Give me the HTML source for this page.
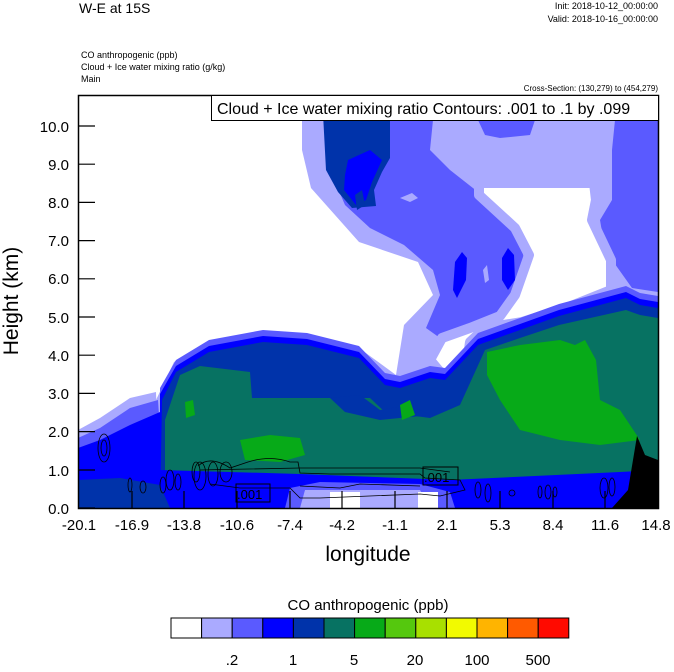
<!DOCTYPE html>
<html><head><meta charset="utf-8"><style>
body{margin:0;background:#fff}
svg text{font-family:"Liberation Sans",sans-serif}
</style></head><body>
<svg width="674" height="667" viewBox="0 0 674 667" xmlns="http://www.w3.org/2000/svg">
<rect width="674" height="667" fill="#fff"/>
<text x="79" y="13" font-size="14">W-E at 15S</text>
<text x="658" y="9" font-size="9" text-anchor="end">Init: 2018-10-12_00:00:00</text>
<text x="658" y="22" font-size="9" text-anchor="end">Valid: 2018-10-16_00:00:00</text>
<text x="81" y="58" font-size="9">CO anthropogenic   (ppb)</text>
<text x="81" y="70" font-size="9">Cloud + Ice water mixing ratio   (g/kg)</text>
<text x="81" y="82" font-size="9">Main</text>
<text x="658" y="91" font-size="8" text-anchor="end">Cross-Section: (130,279) to (454,279)</text>
<defs><clipPath id="c"><rect x="78" y="95" width="580" height="413"/></clipPath></defs>
<g clip-path="url(#c)">
<polygon fill="#aaaaff" points="156,508 156,400 174,362 207,342 263,332 307,335 359,348 396,375 404,325 433,295 418,262 359,242 311,188 302,150 302,95 658,95 658,508"/>
<polygon fill="#5a5aff" points="324,120 433,120 430,150 450,170 478,192 505,212 522,245 525,270 515,295 500,325 470,338 440,338 426,328 440,295 433,270 404,245 370,228 345,205 330,170"/>
<polygon fill="#5a5aff" points="478,120 535,120 530,135 500,138 485,135"/>
<polygon fill="#5a5aff" points="615,120 658,120 658,292 632,288 605,250 600,220 612,200 612,150"/>
<polygon fill="#fff" stroke="#aaaaff" stroke-width="10" stroke-linejoin="round" points="479,183 594,183 596,200 592,220 611,260 611,290 566,308 522,322 485,328 470,342 466,372 445,378 430,360 442,338 470,328 500,316 515,295 529,255 515,228 479,195"/>
<!-- dark column -->
<path fill="#0033aa" d="M322,95 L390,95 L390,158 L382,172 L374,190 L376,206 L352,208 L338,192 L326,170 Z"/>
<path fill="#0000ff" d="M348,160 L370,150 L382,160 L372,182 L366,200 L356,205 L344,190 L345,175 Z"/>
<polygon fill="#0033aa" points="355,195 362,190 365,205 357,210"/>
<polygon fill="#aaaaff" points="400,198 412,193 418,198 410,202"/>
<polygon fill="#0000ff" points="455,262 462,252 467,258 466,280 457,298 453,290"/>
<polygon fill="#0000ff" points="502,258 508,248 514,255 515,280 508,290 502,280"/>
<polygon fill="#aaaaff" points="483,270 487,265 489,280 485,283"/>
<!-- left side layers -->
<polygon fill="#aaaaff" points="78,430 100,418 130,398 156,392 160,508 78,508"/>
<polygon fill="#5a5aff" points="78,438 100,428 130,408 158,400 165,508 78,508"/>
<polygon fill="#0000ff" points="78,448 100,440 130,425 160,412 170,508 78,508"/>
<g>
<polygon fill="#5a5aff" transform="translate(0,-12)" points="160,508 160,400 176,372 209,352 263,342 307,345 359,358 385,385 400,388 430,378 445,380 478,345 520,330 559,316 626,298 640,305 658,308 658,508"/>
<polygon fill="#0000ff" transform="translate(0,-6)" points="160,508 160,400 176,372 209,352 263,342 307,345 359,358 385,385 400,388 430,378 445,380 478,345 520,330 559,316 626,298 640,305 658,308 658,508"/>
<polygon fill="#0033aa" points="160,508 162,400 176,372 209,352 263,342 307,345 359,358 385,385 400,388 430,378 445,380 478,345 520,330 559,316 626,298 640,305 658,308 658,508"/>
<polygon fill="#077262" points="165,508 165,420 180,375 200,366 250,372 252,398 370,398 385,412 430,418 460,405 485,350 520,338 559,325 626,310 640,315 658,318 658,508"/>
</g>
<polygon fill="#0033aa" points="330,398 360,395 380,410 410,405 430,415 380,420 345,412"/>
<polygon fill="#07aa18" points="487,352 520,345 560,340 575,345 585,340 596,360 600,400 620,410 640,440 600,445 560,440 520,430 500,400 487,375"/>
<polygon fill="#07aa18" points="240,440 270,435 300,438 305,455 280,462 245,460"/>
<polygon fill="#07aa18" points="185,402 193,400 195,415 186,418"/>
<polygon fill="#07aa18" points="400,405 410,400 415,415 402,420"/>
<polygon fill="#0000ff" points="160,470 300,474 450,480 620,472 658,470 658,508 160,508"/>
<polygon fill="#5a5aff" points="285,508 290,488 320,482 420,484 450,492 455,508"/>
<polygon fill="#aaaaff" points="300,508 305,490 420,490 430,508"/>
<rect x="330" y="492" width="30" height="16" fill="#fff"/>
<rect x="418" y="492" width="20" height="16" fill="#fff"/>
<polygon fill="#0033aa" points="78,480 120,478 160,485 170,508 78,508"/>
<polygon fill="#000" points="612,508 628,490 633,460 637,436 645,455 658,460 658,508"/>
<g fill="none" stroke="#000" stroke-width="0.8">
<ellipse cx="104" cy="448" rx="6" ry="14"/><ellipse cx="104" cy="448" rx="3" ry="8"/>
<ellipse cx="130" cy="485" rx="2" ry="7"/>
<ellipse cx="143" cy="487" rx="3" ry="6"/><ellipse cx="163" cy="485" rx="3" ry="8"/>
<ellipse cx="170" cy="480" rx="4" ry="10"/><ellipse cx="178" cy="482" rx="3" ry="8"/>
<ellipse cx="196" cy="472" rx="4" ry="10"/><ellipse cx="200" cy="476" rx="6" ry="14"/>
<ellipse cx="213" cy="474" rx="5" ry="12"/><ellipse cx="226" cy="472" rx="6" ry="10"/>
<path d="M198,466 Q210,455 230,468 L248,462 Q270,455 290,462 L298,462 L300,473 L330,474 L420,474 L425,478 L460,480 L465,490 L440,496 L420,494 L320,498 L300,498 L290,488 L240,488 L210,484"/>
<path d="M200,470 L300,468 L420,468 L450,472"/>
<path d="M300,486 L340,488 L360,484 L420,486"/>
<ellipse cx="478" cy="490" rx="3" ry="8"/><ellipse cx="488" cy="493" rx="3" ry="9"/>
<ellipse cx="512" cy="493" rx="3" ry="3"/>
<ellipse cx="540" cy="492" rx="2" ry="6"/><ellipse cx="548" cy="492" rx="3" ry="7"/><ellipse cx="555" cy="492" rx="2" ry="5"/>
<ellipse cx="604" cy="488" rx="4" ry="10"/><ellipse cx="612" cy="487" rx="3" ry="9"/>
</g>
<rect x="236" y="484" width="34" height="18" fill="none" stroke="#000"/>
<text x="237" y="499" font-size="13">.001</text>
<rect x="423" y="467" width="35" height="18" fill="none" stroke="#000"/>
<text x="424" y="482" font-size="13">.001</text>
</g>
<rect x="78.5" y="95.5" width="580" height="413" fill="none" stroke="#000" stroke-width="1.5"/>
<rect x="211.5" y="95.5" width="447" height="25" fill="#fff" stroke="#000"/>
<text x="217" y="114" font-size="16">Cloud + Ice water mixing ratio Contours: .001 to .1 by .099</text>
<g stroke="#000" stroke-width="1.2">
<line x1="78" y1="508" x2="95" y2="508"/><line x1="78" y1="470" x2="95" y2="470"/><line x1="78" y1="431.6" x2="95" y2="431.6"/>
<line x1="78" y1="393.4" x2="95" y2="393.4"/><line x1="78" y1="355.2" x2="95" y2="355.2"/><line x1="78" y1="317" x2="95" y2="317"/>
<line x1="78" y1="278.8" x2="95" y2="278.8"/><line x1="78" y1="240.6" x2="95" y2="240.6"/><line x1="78" y1="202.4" x2="95" y2="202.4"/>
<line x1="78" y1="164.2" x2="95" y2="164.2"/><line x1="78" y1="126" x2="95" y2="126"/>
<line x1="132" y1="508" x2="132" y2="491"/><line x1="184" y1="508" x2="184" y2="491"/><line x1="237" y1="508" x2="237" y2="491"/>
<line x1="290" y1="508" x2="290" y2="491"/><line x1="342" y1="508" x2="342" y2="491"/><line x1="395" y1="508" x2="395" y2="491"/>
<line x1="447" y1="508" x2="447" y2="491"/><line x1="500" y1="508" x2="500" y2="491"/><line x1="553" y1="508" x2="553" y2="491"/>
<line x1="605" y1="508" x2="605" y2="491"/>
</g>
<g font-size="15" text-anchor="end">
<text x="69" y="514">0.0</text><text x="69" y="476">1.0</text><text x="69" y="437">2.0</text><text x="69" y="399">3.0</text>
<text x="69" y="361">4.0</text><text x="69" y="323">5.0</text><text x="69" y="284">6.0</text><text x="69" y="246">7.0</text>
<text x="69" y="208">8.0</text><text x="69" y="170">9.0</text><text x="69" y="132">10.0</text>
</g>
<g font-size="15" text-anchor="middle">
<text x="79" y="530">-20.1</text><text x="132" y="530">-16.9</text><text x="184" y="530">-13.8</text><text x="237" y="530">-10.6</text>
<text x="290" y="530">-7.4</text><text x="342" y="530">-4.2</text><text x="395" y="530">-1.1</text><text x="447" y="530">2.1</text>
<text x="500" y="530">5.3</text><text x="553" y="530">8.4</text><text x="605" y="530">11.6</text><text x="656" y="530">14.8</text>
</g>
<text x="368" y="561" font-size="21" text-anchor="middle">longitude</text>
<text transform="translate(18,301) rotate(-90)" font-size="21" text-anchor="middle">Height (km)</text>
<text x="368" y="610" font-size="15" text-anchor="middle">CO anthropogenic  (ppb)</text>
<g stroke="#000" stroke-width="1">
<rect x="171" y="618" width="30.6" height="20" fill="#ffffff"/>
<rect x="201.6" y="618" width="30.6" height="20" fill="#aaaaff"/>
<rect x="232.2" y="618" width="30.6" height="20" fill="#5a5aff"/>
<rect x="262.8" y="618" width="30.6" height="20" fill="#0000ff"/>
<rect x="293.4" y="618" width="30.6" height="20" fill="#0033aa"/>
<rect x="324" y="618" width="30.6" height="20" fill="#077262"/>
<rect x="354.6" y="618" width="30.6" height="20" fill="#07aa18"/>
<rect x="385.2" y="618" width="30.6" height="20" fill="#55c80e"/>
<rect x="415.8" y="618" width="30.6" height="20" fill="#a8e000"/>
<rect x="446.4" y="618" width="30.6" height="20" fill="#f2fa00"/>
<rect x="477" y="618" width="30.6" height="20" fill="#ffb400"/>
<rect x="507.6" y="618" width="30.6" height="20" fill="#ff5a00"/>
<rect x="538.2" y="618" width="30.6" height="20" fill="#ff0a00"/>
</g>
<g font-size="15" text-anchor="middle">
<text x="232" y="665">.2</text><text x="293" y="665">1</text><text x="354" y="665">5</text>
<text x="415" y="665">20</text><text x="477" y="665">100</text><text x="538" y="665">500</text>
</g>
</svg>
</body></html>
